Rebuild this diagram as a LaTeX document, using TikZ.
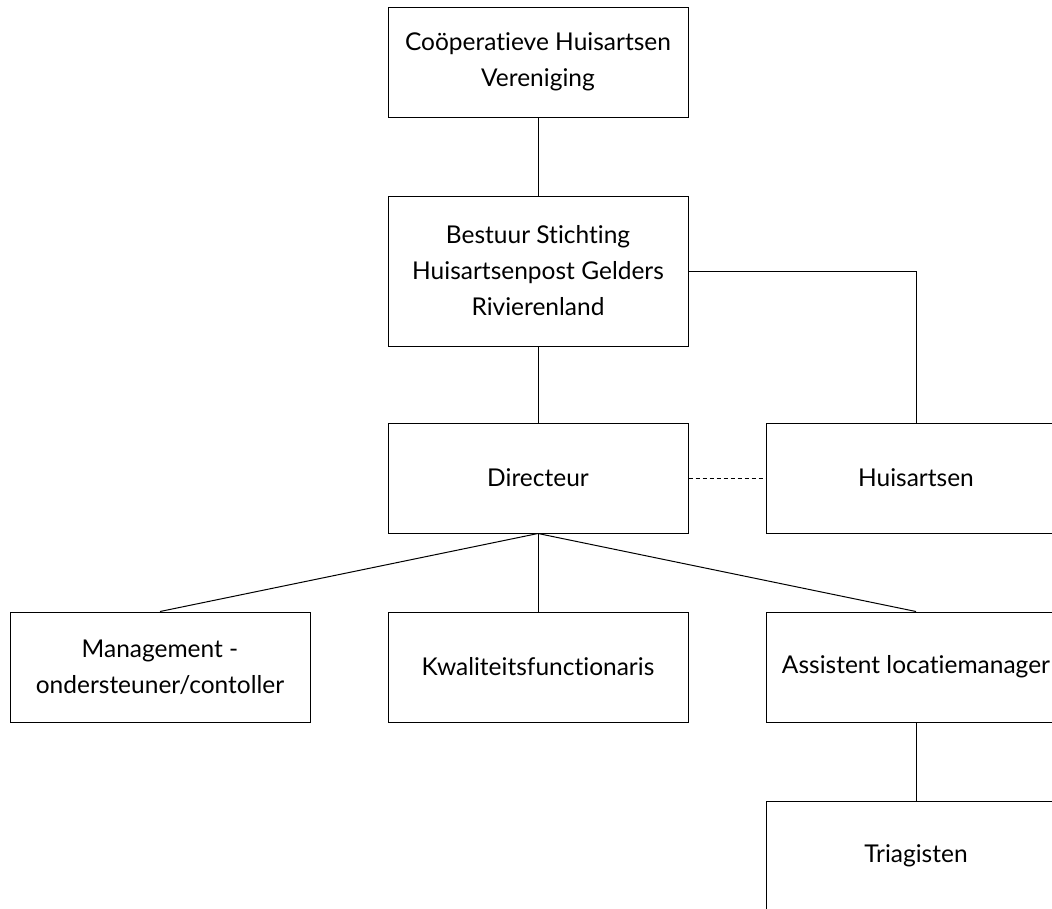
\documentclass[tikz,border=0pt]{standalone}
\usepackage{fontspec}
\setmainfont{Lato}[Ligatures={NoCommon,NoContextual}]
\begin{document}
\begin{tikzpicture}[x=1pt,y=-1pt,
  box/.style={draw=black,line width=1pt,minimum width=300pt,minimum height=110pt,
    align=center,inner sep=0pt,font=\fontsize{24.5}{36}\selectfont},
  tall/.style={minimum height=150pt},
  link/.style={draw=black,line width=1pt}]
\useasboundingbox (0,0) rectangle (1052,908);
\clip (0,0) rectangle (1052,908);
\fill[white] (0,0) rectangle (1052,908);
\node[box] (coop) at (538,62) {Coöperatieve Huisartsen\\Vereniging};
\node[box,tall] (bestuur) at (538,271) {Bestuur Stichting\\Huisartsenpost Gelders\\Rivierenland};
\node[box] (dir) at (538,478) {Directeur};
\node[box] (huis) at (916,478) {Huisartsen};
\node[box] (mgmt) at (160,667) {Management -\\ondersteuner/contoller};
\node[box] (kwal) at (538,667) {Kwaliteitsfunctionaris};
\node[box] (assist) at (916,667) {Assistent locatiemanager};
\node[box] (triag) at (916,856) {Triagisten};
\draw[link] (coop.south) -- (bestuur.north);
\draw[link] (bestuur.south) -- (dir.north);
\draw[link] (bestuur.east) -| (huis.north);
\draw[link,dash pattern=on 4pt off 3pt] (dir.east) -- (huis.west);
\draw[link] (dir.south) -- (mgmt.north);
\draw[link] (dir.south) -- (kwal.north);
\draw[link] (dir.south) -- (assist.north);
\draw[link] (assist.south) -- (triag.north);
\end{tikzpicture}
\end{document}
